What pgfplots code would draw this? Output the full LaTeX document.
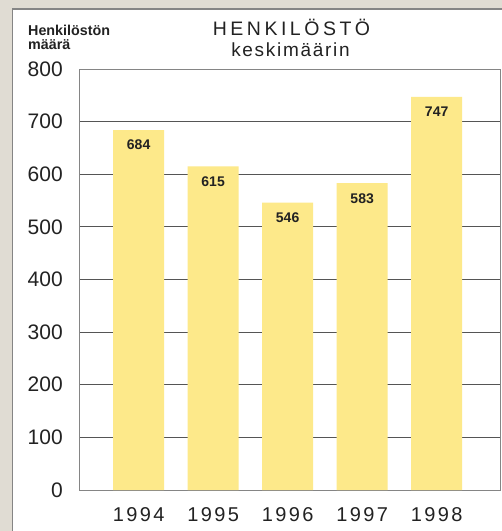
\documentclass[border=0pt]{standalone}
\usepackage{fontspec}
\setmainfont{Liberation Sans}
\usepackage{pgfplots}
\pgfplotsset{compat=1.18}
\definecolor{bgbeige}{HTML}{E0DCD3}
\definecolor{panelline}{HTML}{858585}
\definecolor{barfill}{HTML}{FDE98A}
\definecolor{gridc}{HTML}{555555}
\definecolor{txt}{HTML}{222222}
\begin{document}
\begin{tikzpicture}[x=1pt,y=1pt]
  % background and white panel (picture is 502 x 531)
  \fill[bgbeige] (0,0) rectangle (502,531);
  \useasboundingbox (0,0) rectangle (502,531);
  \begin{scope}
    \clip (0,0) rectangle (502,531);
    \filldraw[fill=white,draw=panelline,line width=1.6pt] (12.5,-10) rectangle (520,522);
  \end{scope}

  \begin{axis}[
      at={(79pt,41pt)}, anchor=south west,
      scale only axis,
      width=421pt, height=421pt,
      ybar, bar width=51pt,
      xmin=-0.8, xmax=4.85,
      ymin=0, ymax=800,
      xtick={0,1,2,3,4},
      xticklabels={1994,1995,1996,1997,1998},
      ytick={0,100,...,800},
      major tick length=0pt,
      ymajorgrids,
      grid style={gridc, line width=0.9pt},
      axis line style={panelline, line width=0.9pt},
      /pgf/number format/assume math mode=true,
      yticklabel style={font=\fontsize{21}{21}\selectfont, text=txt, xshift=-12.7pt},
      xticklabel style={font=\fontsize{20}{20}\selectfont\addfontfeature{LetterSpace=12}, text=txt, yshift=-13.7pt},
      nodes near coords,
      every node near coord/.append style={font=\fontsize{14}{14}\selectfont\bfseries, text=txt, anchor=north, yshift=-6.5pt},
    ]
    \addplot[fill=barfill, draw=none] coordinates {
      (0,684) (1,615) (2,546) (3,583) (4,747)
    };
  \end{axis}

  % titles
  \node[anchor=base, inner sep=0, text=txt, font=\fontsize{19.5}{19.5}\selectfont\addfontfeature{LetterSpace=18}] at (291.5,495) {HENKILÖSTÖ};
  \node[anchor=base, inner sep=0, text=txt, font=\fontsize{19}{19}\selectfont\addfontfeature{LetterSpace=9}] at (290.5,474) {keskimäärin};
  \node[anchor=base west, inner sep=0, text=txt, font=\fontsize{14.3}{14.3}\selectfont\bfseries] at (28,495) {Henkilöstön};
  \node[anchor=base west, inner sep=0, text=txt, font=\fontsize{14.3}{14.3}\selectfont\bfseries] at (28,481) {määrä};
\end{tikzpicture}
\end{document}
